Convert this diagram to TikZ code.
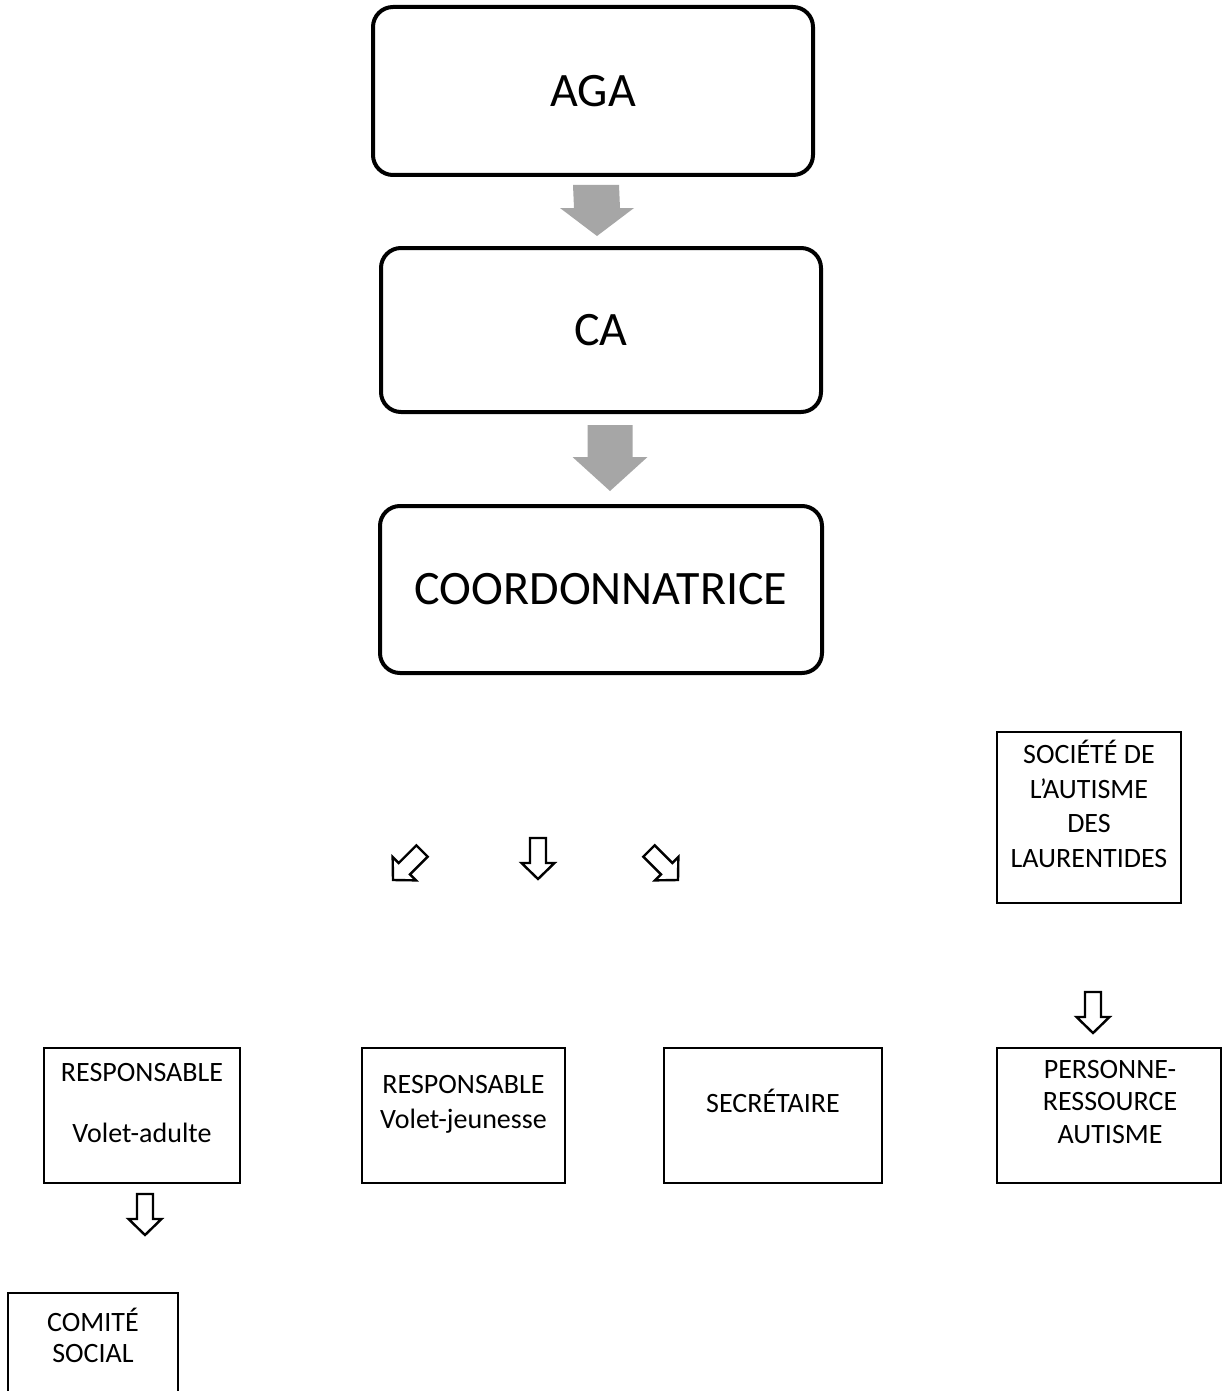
\documentclass[tikz,border=0pt]{standalone}
\usepackage{fontspec}
\setmainfont{Carlito}
\usetikzlibrary{calc}
\definecolor{arrowgray}{RGB}{166,166,166}
\tikzset{
  bigbox/.style={draw, line width=4pt, rounded corners=20pt, inner sep=0pt, font=\fontsize{48}{58}\selectfont},
  smallbox/.style={draw, line width=2pt, inner sep=0pt},
  smalltext/.style={inner sep=0pt, align=center, font=\fontsize{28}{33}\selectfont},
  hollow/.pic={\draw[line width=2.4pt, miter limit=10] (0,0) -- (-16.5,16) -- (-8,16) -- (-8,41) -- (8,41) -- (8,16) -- (16.5,16) -- cycle;}
}
\newcommand{\blockarrow}[5]{%
  \fill[arrowgray] ($(#1)+(-#3,0)$) -- ($(#1)+(#3,0)$) -- ($(#2)+(#3,#5)$) -- ($(#2)+(#4,#5)$) -- (#2) -- ($(#2)+(-#4,#5)$) -- ($(#2)+(-#3,#5)$) -- cycle;}
\begin{document}
\begin{tikzpicture}[x=1pt,y=1pt]
\clip (0,0) rectangle (1222,-1391);
\fill[white] (0,0) rectangle (1222,-1391);

% top boxes
\node[bigbox, minimum width=440pt, minimum height=168pt] (aga) at (593,-91) {AGA};
\node[bigbox, minimum width=440pt, minimum height=164pt] (ca) at (601,-330) {CA};
\node[bigbox, minimum width=442pt, minimum height=167pt] (coord) at (601,-589.5) {COORDONNATRICE};

% gray block arrows
\coordinate (a1t) at ($(aga.south)+(3,-8)$);
\coordinate (a1h) at ($(ca.north)+(-4,10)$);
\blockarrow{a1t}{a1h}{23}{37}{28}
\coordinate (a2t) at ($(ca.south)+(9,-11)$);
\coordinate (a2h) at ($(coord.north)+(9,13)$);
\blockarrow{a2t}{a2h}{22.5}{37.5}{34}

% small boxes
\node[smallbox, minimum width=184pt, minimum height=171pt] (soc) at (1089,-817.5) {};
\node[smallbox, minimum width=224pt, minimum height=135pt] (pers) at (1108.5,-1115.5) {};
\node[smallbox, minimum width=196pt, minimum height=135pt] (radu) at (142,-1115.5) {};
\node[smallbox, minimum width=203pt, minimum height=135pt] (rjeu) at (463.5,-1115.5) {};
\node[smallbox, minimum width=218pt, minimum height=135pt] (secr) at (773,-1115.5) {};
\node[smallbox, minimum width=170pt, minimum height=127pt] (comi) at (93,-1356.5) {};

% texts
\node[smalltext] (soct) at (1089,-804) {SOCIÉTÉ DE\\[1.5pt]L’AUTISME\\[1.5pt]DES\\[1.5pt]LAURENTIDES};
\node[smalltext] (perst) at (1110,-1102) {PERSONNE-\\[-0.5pt]RESSOURCE\\[-0.5pt]AUTISME};
\node[smalltext] (radut) at (142,-1103) {RESPONSABLE\\[28pt]Volet-adulte};
\node[smalltext] (rjeut) at (463.5,-1104.5) {RESPONSABLE\\[2pt]Volet-jeunesse};
\node[smalltext] (secrt) at (773,-1101) {SECRÉTAIRE};
\node[smalltext] (comit) at (93,-1335.5) {COMITÉ\\[-2pt]SOCIAL};

% hollow arrows
\coordinate (dl) at (393,-880);
\coordinate (dd) at (538,-879);
\coordinate (dr) at (678,-880);
\coordinate (dsoc) at (1093,-1033);
\coordinate (dadu) at (145,-1235);
\pic[rotate=-45] at (dl) {hollow};
\pic at (dd) {hollow};
\pic[rotate=45] at (dr) {hollow};
\pic at (dsoc) {hollow};
\pic at (dadu) {hollow};
\end{tikzpicture}
\end{document}
